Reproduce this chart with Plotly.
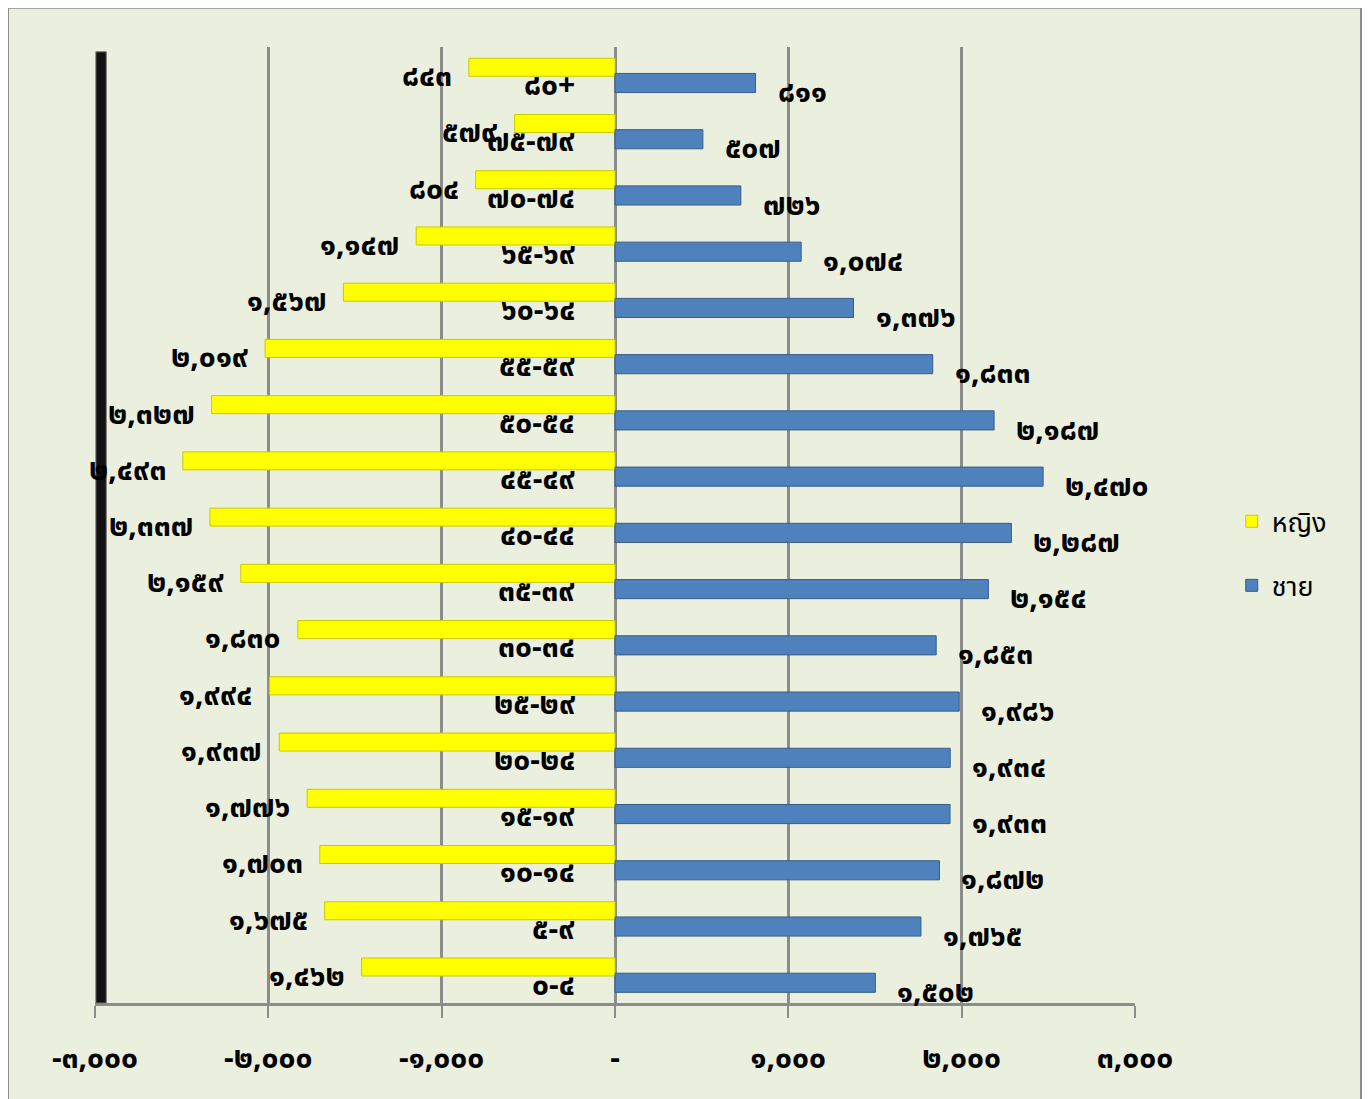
import plotly.graph_objects as go

# age groups, bottom to top
age_groups = ['0-4', '5-9', '10-14', '15-19', '20-24', '25-29', '30-34', '35-39',
              '40-44', '45-49', '50-54', '55-59', '60-64', '65-69', '70-74', '75-79', '80+']
female = [1462, 1675, 1703, 1776, 1937, 1994, 1830, 2159,
          2337, 2493, 2327, 2019, 1567, 1147, 804, 579, 843]
male = [1502, 1765, 1872, 1933, 1934, 1986, 1853, 2154,
        2287, 2470, 2187, 1833, 1376, 1074, 726, 507, 811]
tick_vals = [-3000, -2000, -1000, 0, 1000, 2000, 3000]

THAI = str.maketrans('0123456789', '๐๑๒๓๔๕๖๗๘๙')


def thai(s):
    return str(s).translate(THAI)


def thai_num(v):
    if v == 0:
        return '-'
    return thai(f"{v:,}")


cats = [thai(a) for a in age_groups]
FONT = "Noto Sans Thai, Noto Sans, DejaVu Sans, sans-serif"
BG = '#EBF0DE'
LBL = dict(size=30, color='black', family=FONT, weight='bold')

fig = go.Figure()

fig.add_trace(go.Bar(
    y=cats, x=[-v for v in female], orientation='h', name='หญิง',
    width=0.32, offset=-0.02,
    marker=dict(color='#FFFF00', line=dict(color='#C9C900', width=1)),
    legendgroup='f', hoverinfo='skip'))

fig.add_trace(go.Bar(
    y=cats, x=male, orientation='h', name='ชาย',
    width=0.34, offset=-0.31,
    marker=dict(color='#4F81BD', line=dict(color='#385D8A', width=1)),
    legendgroup='m', hoverinfo='skip'))

# labels
for c, f, m in zip(cats, female, male):
    fig.add_annotation(x=-f, y=c, text=thai_num(f), showarrow=False,
                       xanchor='right', xshift=-15, yshift=-2, font=LBL)
    fig.add_annotation(x=m, y=c, text=thai_num(m), showarrow=False,
                       xanchor='left', xshift=20, yshift=-18, font=LBL)
    fig.add_annotation(x=0, y=c, text=c, showarrow=False,
                       xanchor='right', xshift=-38, yshift=-11, font=LBL)

# chart border and back wall edge
fig.add_shape(type='rect', xref='paper', yref='paper',
              x0=-0.0837, x1=1.2173, y0=-0.12, y1=1.041,
              line=dict(color='#8C8C8C', width=2), fillcolor=BG, layer='below')
fig.add_shape(type='rect', xref='x', yref='paper',
              x0=-2995, x1=-2935, y0=0.0, y1=0.995,
              line=dict(color='#777777', width=1), fillcolor='#111111')

fig.update_layout(
    width=1370, height=1099,
    paper_bgcolor='white', plot_bgcolor=BG,
    margin=dict(l=87, r=243, t=39, b=104),
    barmode='overlay',
    font=dict(family=FONT, color='black'),
    showlegend=True,
    legend=dict(x=1.093, y=0.47, xanchor='left', yanchor='middle',
                traceorder='grouped', tracegroupgap=26,
                font=dict(size=27, family=FONT, color='black'),
                bgcolor='rgba(0,0,0,0)'),
)

fig.update_xaxes(
    range=[-3000, 3000],
    tickvals=tick_vals, ticktext=[thai_num(v) for v in tick_vals],
    tickfont=LBL,
    showgrid=True, gridcolor='#8C8C8C', gridwidth=3,
    zeroline=False,
    showline=True, linecolor='#8C8C8C', linewidth=3,
    ticks='outside', ticklen=12, tickcolor='#8C8C8C', tickwidth=2,
    ticklabelstandoff=14, fixedrange=True)

fig.update_yaxes(
    categoryorder='array', categoryarray=cats,
    range=[-0.5, 16.5], showticklabels=False, showgrid=False,
    zeroline=False, showline=False, ticks='')

fig.write_html("out.html")
